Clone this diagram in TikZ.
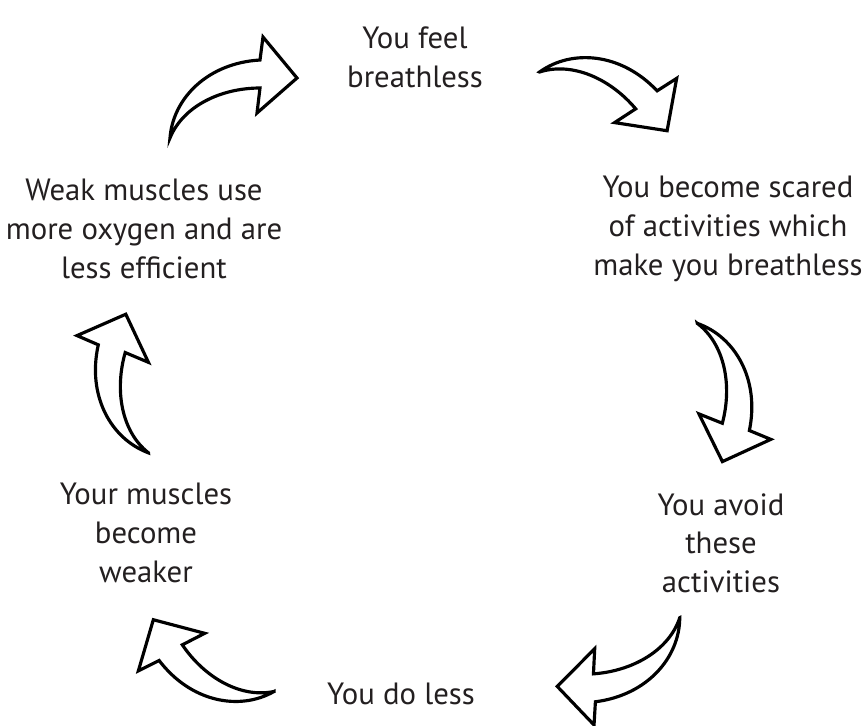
\documentclass[tikz,border=0pt]{standalone}
\usepackage{fontspec}
\setmainfont{PT Sans}
\definecolor{textgrey}{HTML}{231F20}
\tikzset{
	cycletext/.style={align=center,text=textgrey,font=\fontsize{17.5}{22}\selectfont},
	curvedarrow/.pic={
		\draw[x=0.02cm,y=0.02cm,line width=1.8pt,line join=miter,fill=white]
			(-63,-30) .. controls (-60,10) and (-25,45) .. (27,48)
			-- (30,71) -- (64,30) -- (24,-5) -- (27,20)
			.. controls (-12,20) and (-50,2) .. cycle;
	}
}
\begin{document}
\begin{tikzpicture}[x=0.02cm,y=-0.02cm]
	\useasboundingbox (0,0) rectangle (863,725);
	% texts round the circle
	\node[cycletext] (breathless) at (415,57) {You feel\\breathless};
	\node[cycletext] (scared) at (728,229) {You become scared\\of activities which\\make you breathless};
	\node[cycletext] (avoid) at (721,543) {You avoid\\these\\activities};
	\node[cycletext] (doless) at (401,694) {You do less};
	\node[cycletext] (weaker) at (146,533) {Your muscles\\become\\weaker};
	\node[cycletext] (efficient) at (144,229) {Weak muscles use\\more oxygen and are\\less efficient};
	%
	% curved arrows between them
	\pic[rotate=0] at (233,108) {curvedarrow};
	\pic[rotate=-50] at (603,101) {curvedarrow};
	\pic[rotate=-105] at (710,392) {curvedarrow};
	\pic[rotate=184] at (619,652) {curvedarrow};
	\pic[rotate=124] at (214,656) {curvedarrow};
	\pic[rotate=74] at (137,384) {curvedarrow};
	%
\end{tikzpicture}
\end{document}
